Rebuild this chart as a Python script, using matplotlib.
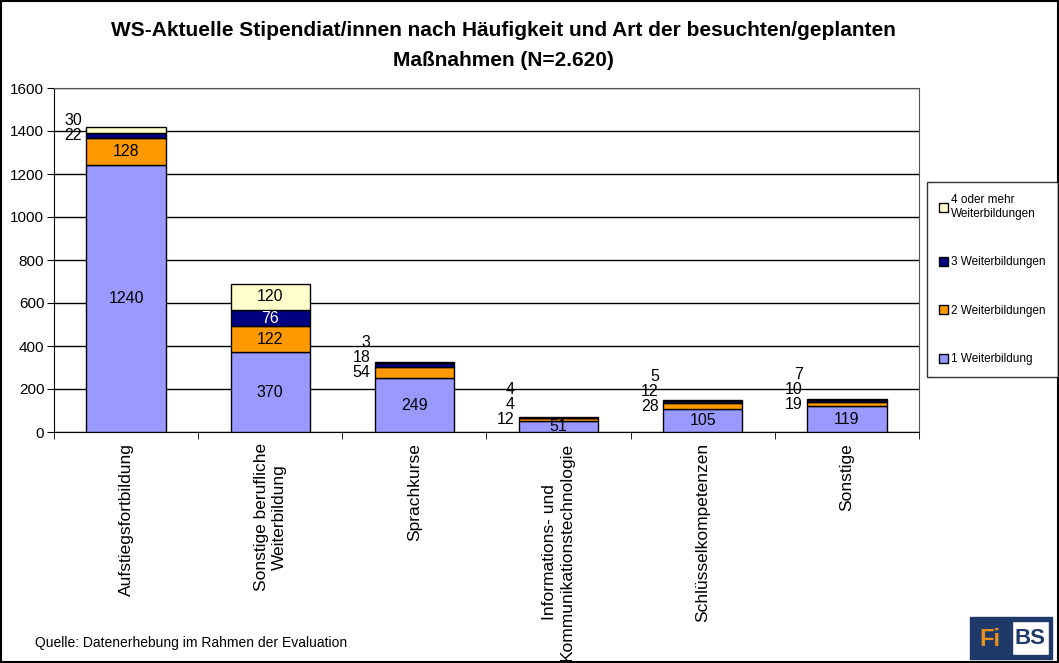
import matplotlib.pyplot as plt
import numpy as np
from matplotlib.patches import Rectangle

plt.rcParams['font.family'] = ['Liberation Sans', 'DejaVu Sans']

categories = ["Aufstiegsfortbildung", "Sonstige berufliche\nWeiterbildung", "Sprachkurse",
              "Informations- und\nKommunikationstechnologie", "Schlüsselkompetenzen", "Sonstige"]
w1 = [1240, 370, 249, 51, 105, 119]
w2 = [128, 122, 54, 12, 28, 19]
w3 = [22, 76, 18, 4, 12, 10]
w4 = [30, 120, 3, 4, 5, 7]
series = [w1, w2, w3, w4]
names = ["1 Weiterbildung", "2 Weiterbildungen", "3 Weiterbildungen", "4 oder mehr\nWeiterbildungen"]
colors = ["#9999FF", "#FF9900", "#000080", "#FFFFCC"]
text_colors = ["black", "black", "white", "black"]

fig = plt.figure(figsize=(10.59, 6.63), dpi=100)
ax = fig.add_axes([54 / 1059, 1 - 432 / 663, 865 / 1059, 344 / 663])

x = np.arange(len(categories))
width = 0.55
bottom = np.zeros(len(categories))
bars = []
for vals, name, col in zip(series, names, colors):
    b = ax.bar(x, vals, width, bottom=bottom, color=col, edgecolor="black", linewidth=1.0, label=name, zorder=3)
    bars.append(b)
    bottom += np.array(vals)

# data labels: inside if the segment is tall enough, else stacked to the left of the bar
px_per_unit = 344 / 1600
for i in range(len(categories)):
    base = 0
    last_left = -1e9
    for s, vals in enumerate(series):
        v = vals[i]
        center = base + v / 2
        if v * px_per_unit >= 14 or s == 0:
            ax.text(x[i], center, str(v), ha="center", va="center", fontsize=11.5,
                    color=text_colors[s], zorder=4)
        else:
            y = max(center, last_left + 15 / px_per_unit)
            last_left = y
            ax.text(x[i] - width / 2 - 0.03, y, str(v), ha="right", va="center", fontsize=11.5, zorder=4)
        base += v

ax.set_xlim(-0.5, len(categories) - 0.5)
ax.set_ylim(0, 1600)
ax.set_yticks(np.arange(0, 1601, 200))
ax.yaxis.grid(True, color="black", linewidth=1.0, zorder=0)
ax.set_axisbelow(True)
ax.tick_params(axis="y", labelsize=11, length=5, direction="out", pad=2)
ax.set_xticks(x)
ax.set_xticklabels(categories, rotation=90, fontsize=12.5, va="top", ha="center", multialignment="center")
ax.tick_params(axis="x", length=0, pad=8)
ax.set_xticks(np.arange(-0.5, len(categories), 1), minor=True)
ax.tick_params(axis="x", which="minor", length=5, direction="out")
for sp in ax.spines.values():
    sp.set_color("#555555")
ax.spines["left"].set_color("black")
ax.spines["bottom"].set_color("black")

fig.text(0.475, 1 - 30 / 663, "WS-Aktuelle Stipendiat/innen nach Häufigkeit und Art der besuchten/geplanten",
         ha="center", va="center", fontsize=15, fontweight="bold")
fig.text(0.475, 1 - 60 / 663, "Maßnahmen (N=2.620)", ha="center", va="center", fontsize=15, fontweight="bold")

handles = [bars[3], bars[2], bars[1], bars[0]]
labels = [names[3], names[2], names[1], names[0]]
leg = fig.legend(handles, labels, loc="upper left", bbox_to_anchor=(927 / 1059, 1 - 182 / 663),
                 fontsize=8.5, frameon=True, fancybox=False, edgecolor="black", labelspacing=3.1,
                 handlelength=0.8, handleheight=0.8, handletextpad=0.25, borderpad=1.0, borderaxespad=0)
leg.get_frame().set_linewidth(1.0)

fig.text(35 / 1059, 1 - 643 / 663, "Quelle: Datenerhebung im Rahmen der Evaluation", fontsize=10,
         ha="left", va="center")

# logo
fig.patches.append(Rectangle((970 / 1059, 1 - 659 / 663), 82 / 1059, 42 / 663,
                             transform=fig.transFigure, color="#1F3A68", zorder=5))
fig.patches.append(Rectangle((1012 / 1059, 1 - 655 / 663), 37 / 1059, 34 / 663,
                             transform=fig.transFigure, facecolor="white", edgecolor="#1F3A68", zorder=6))
fig.text(990 / 1059, 1 - 640 / 663, "Fi", color="#E8901C", fontsize=17, fontweight="bold",
         ha="center", va="center", zorder=7)
fig.text(1030 / 1059, 1 - 638 / 663, "BS", color="#1F3A68", fontsize=16, fontweight="bold",
         ha="center", va="center", zorder=7)

# outer frame
fig.patches.append(Rectangle((0.001, 0.001), 0.998, 0.997, transform=fig.transFigure,
                             fill=False, edgecolor="black", linewidth=1.5))

fig.savefig("out.png", dpi=100)
